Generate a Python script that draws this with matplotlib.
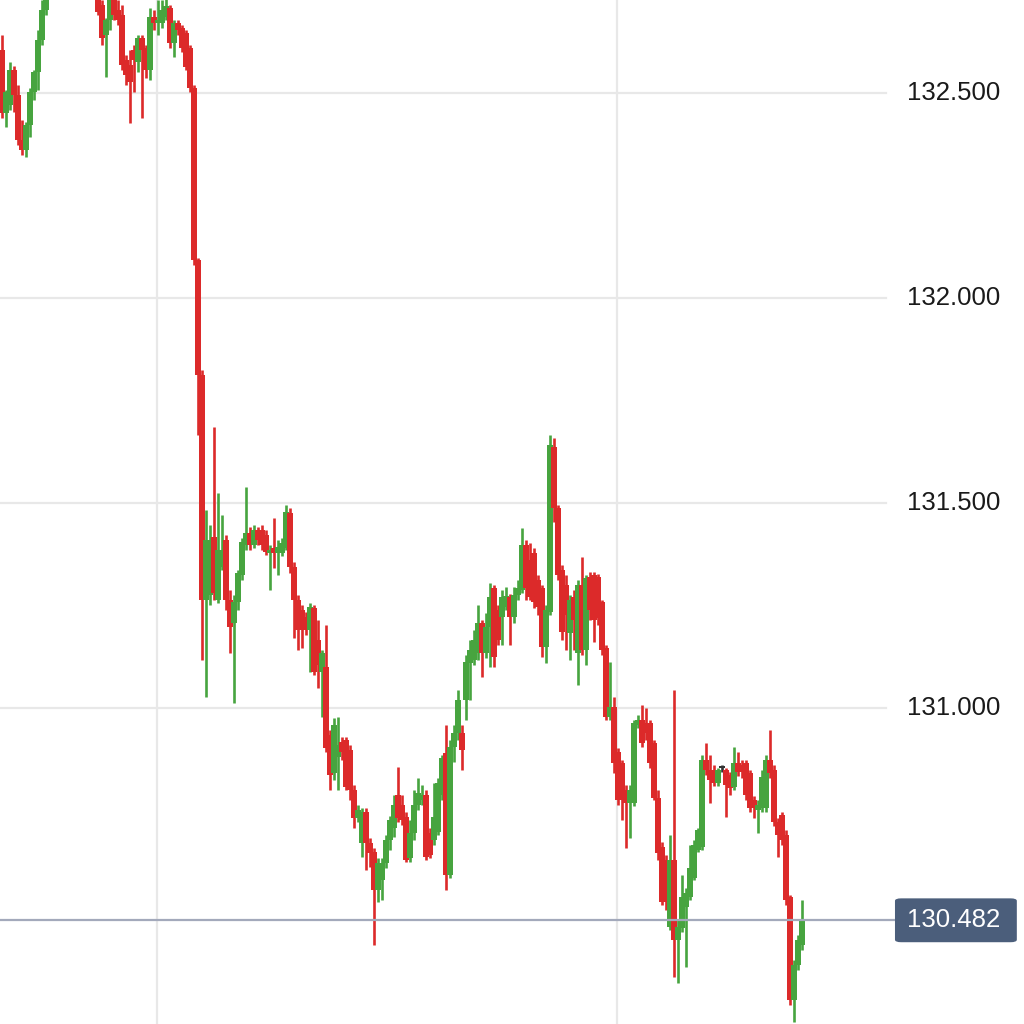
import matplotlib
matplotlib.use("Agg")
import matplotlib.pyplot as plt
import matplotlib.transforms as mtransforms
from matplotlib.patches import FancyBboxPatch
import numpy as np

# candle data (USD/JPY style quotes), oldest first
opens = [
    132.605, 132.451, 132.471, 132.556, 132.495, 132.386, 132.361, 132.422, 132.503, 132.551,
    132.629, 132.703, 132.776, 132.825, 132.861, 132.837, 132.886, 132.873, 132.910, 132.849,
    132.873, 132.825, 132.800, 132.764, 132.751, 132.715, 132.642, 132.678, 132.739, 132.703,
    132.690, 132.581, 132.568, 132.605, 132.576, 132.634, 132.610, 132.556, 132.686, 132.671,
    132.671, 132.686, 132.707, 132.622, 132.671, 132.659, 132.647, 132.610, 132.512, 132.093,
    131.812, 131.264, 131.276, 131.417, 131.264, 131.344, 131.410, 131.264, 131.207, 131.259,
    131.325, 131.398, 131.427, 131.398, 131.434, 131.434, 131.422, 131.378, 131.390, 131.378,
    131.378, 131.390, 131.476, 131.344, 131.264, 131.239, 131.222, 131.190, 131.244, 131.166,
    131.088, 131.100, 130.934, 130.842, 130.881, 130.917, 130.922, 130.898, 130.800, 130.732,
    130.671, 130.746, 130.671, 130.649, 130.556, 130.581, 130.622, 130.678, 130.707, 130.788,
    130.764, 130.734, 130.634, 130.695, 130.764, 130.776, 130.788, 130.695, 130.678, 130.698,
    130.788, 130.890, 130.593, 130.905, 130.939, 130.939, 131.020, 131.110, 131.117, 131.134,
    131.207, 131.134, 131.198, 131.293, 131.239, 131.222, 131.247, 131.271, 131.222, 131.276,
    131.288, 131.398, 131.361, 131.378, 131.312, 131.293, 131.149, 131.234, 131.637, 131.488,
    131.337, 131.300, 131.183, 131.271, 131.134, 131.300, 131.142, 131.320, 131.325, 131.320,
    131.259, 131.146, 130.978, 131.003, 130.893, 130.866, 130.800, 130.768, 130.768, 130.959,
    130.971, 130.964, 130.964, 130.915, 130.781, 130.661, 130.629, 130.466, 130.629, 130.434,
    130.464, 130.515, 130.539, 130.586, 130.654, 130.661, 130.873, 130.849, 130.849, 130.817,
    130.853, 130.849, 130.837, 130.807, 130.866, 130.861, 130.866, 130.842, 130.776, 130.751,
    130.756, 130.756, 130.873, 130.849, 130.722, 130.739, 130.690, 130.539, 130.288, 130.373,
    130.422,
]
highs = [
    132.642, 132.507, 132.576, 132.566, 132.520, 132.434, 132.429, 132.512, 132.556, 132.654,
    132.727, 132.800, 132.849, 132.898, 132.898, 132.922, 132.934, 132.947, 132.934, 132.898,
    132.898, 132.861, 132.837, 132.800, 132.776, 132.727, 132.683, 132.764, 132.764, 132.727,
    132.715, 132.593, 132.605, 132.617, 132.642, 132.642, 132.617, 132.707, 132.703, 132.727,
    132.727, 132.734, 132.715, 132.678, 132.678, 132.666, 132.654, 132.617, 132.520, 132.098,
    131.825, 131.483, 131.447, 131.686, 131.525, 131.471, 131.422, 131.288, 131.276, 131.337,
    131.415, 131.539, 131.442, 131.447, 131.442, 131.447, 131.434, 131.398, 131.464, 131.410,
    131.415, 131.495, 131.488, 131.356, 131.276, 131.251, 131.234, 131.256, 131.251, 131.215,
    131.142, 131.203, 130.947, 130.976, 130.978, 130.929, 130.929, 130.910, 130.812, 130.764,
    130.756, 130.756, 130.683, 130.659, 130.634, 130.634, 130.690, 130.737, 130.788, 130.856,
    130.788, 130.746, 130.727, 130.800, 130.829, 130.812, 130.800, 130.707, 130.817, 130.829,
    130.886, 130.959, 130.922, 130.959, 131.044, 130.959, 131.129, 131.166, 131.190, 131.251,
    131.215, 131.232, 131.305, 131.300, 131.251, 131.288, 131.295, 131.278, 131.295, 131.312,
    131.439, 131.410, 131.403, 131.390, 131.325, 131.300, 131.251, 131.666, 131.659, 131.495,
    131.349, 131.325, 131.276, 131.288, 131.312, 131.368, 131.325, 131.332, 131.332, 131.327,
    131.264, 131.154, 131.112, 131.027, 130.903, 130.873, 130.812, 130.812, 130.971, 130.983,
    131.008, 131.000, 130.971, 130.922, 130.800, 130.673, 130.642, 130.690, 131.044, 130.483,
    130.593, 130.561, 130.666, 130.678, 130.707, 130.886, 130.915, 130.886, 130.861, 130.854,
    130.861, 130.854, 130.844, 130.905, 130.893, 130.873, 130.873, 130.849, 130.786, 130.776,
    130.849, 130.886, 130.947, 130.861, 130.732, 130.746, 130.703, 130.544, 130.386, 130.447,
    130.532,
]
lows = [
    132.439, 132.417, 132.459, 132.454, 132.373, 132.349, 132.344, 132.393, 132.483, 132.507,
    132.617, 132.690, 132.764, 132.812, 132.825, 132.825, 132.849, 132.861, 132.837, 132.825,
    132.800, 132.776, 132.751, 132.732, 132.690, 132.617, 132.539, 132.654, 132.678, 132.666,
    132.556, 132.520, 132.427, 132.503, 132.551, 132.439, 132.537, 132.532, 132.654, 132.642,
    132.659, 132.678, 132.610, 132.588, 132.642, 132.600, 132.556, 132.503, 132.081, 131.666,
    131.117, 131.027, 131.251, 131.264, 131.256, 131.337, 131.239, 131.134, 131.012, 131.239,
    131.312, 131.386, 131.386, 131.390, 131.398, 131.386, 131.373, 131.288, 131.342, 131.325,
    131.371, 131.386, 131.329, 131.171, 131.142, 131.146, 131.178, 131.088, 131.081, 131.049,
    130.978, 130.893, 130.800, 130.824, 130.800, 130.873, 130.800, 130.776, 130.707, 130.722,
    130.637, 130.605, 130.612, 130.422, 130.527, 130.532, 130.610, 130.654, 130.686, 130.722,
    130.715, 130.625, 130.625, 130.678, 130.751, 130.764, 130.629, 130.634, 130.666, 130.690,
    130.776, 130.556, 130.586, 130.869, 130.922, 130.849, 130.971, 131.020, 131.105, 131.117,
    131.076, 131.122, 131.100, 131.100, 131.154, 131.154, 131.239, 131.154, 131.207, 131.264,
    131.281, 131.264, 131.264, 131.244, 131.227, 131.124, 131.110, 131.227, 131.454, 131.312,
    131.166, 131.142, 131.117, 131.142, 131.056, 131.129, 131.105, 131.215, 131.161, 131.203,
    131.129, 130.971, 130.971, 130.842, 130.764, 130.727, 130.659, 130.683, 130.761, 130.951,
    130.905, 130.922, 130.854, 130.776, 130.629, 130.520, 130.508, 130.459, 130.344, 130.329,
    130.454, 130.369, 130.532, 130.581, 130.649, 130.654, 130.837, 130.768, 130.810, 130.810,
    130.844, 130.734, 130.788, 130.800, 130.834, 130.829, 130.776, 130.746, 130.732, 130.695,
    130.746, 130.746, 130.829, 130.712, 130.637, 130.666, 130.520, 130.276, 130.234, 130.361,
    130.410,
]
closes = [
    132.451, 132.503, 132.556, 132.495, 132.386, 132.361, 132.422, 132.503, 132.551, 132.629,
    132.703, 132.776, 132.825, 132.861, 132.837, 132.886, 132.873, 132.910, 132.849, 132.873,
    132.825, 132.800, 132.764, 132.739, 132.698, 132.634, 132.678, 132.739, 132.690, 132.678,
    132.568, 132.544, 132.527, 132.581, 132.634, 132.605, 132.556, 132.686, 132.671, 132.678,
    132.703, 132.712, 132.622, 132.671, 132.654, 132.610, 132.564, 132.512, 132.093, 131.812,
    131.264, 131.410, 131.410, 131.281, 131.386, 131.386, 131.264, 131.198, 131.259, 131.329,
    131.405, 131.427, 131.398, 131.434, 131.410, 131.398, 131.381, 131.386, 131.378, 131.393,
    131.403, 131.478, 131.344, 131.264, 131.190, 131.190, 131.190, 131.247, 131.088, 131.105,
    131.134, 130.903, 130.837, 130.959, 130.910, 130.893, 130.807, 130.800, 130.732, 130.751,
    130.746, 130.671, 130.646, 130.556, 130.622, 130.622, 130.678, 130.727, 130.764, 130.732,
    130.727, 130.629, 130.695, 130.764, 130.793, 130.788, 130.637, 130.642, 130.734, 130.817,
    130.878, 130.593, 130.905, 130.939, 131.020, 130.898, 131.112, 131.142, 131.166, 131.207,
    131.134, 131.198, 131.271, 131.124, 131.166, 131.271, 131.273, 131.222, 131.276, 131.293,
    131.398, 131.293, 131.271, 131.259, 131.247, 131.149, 131.239, 131.642, 131.488, 131.325,
    131.186, 131.227, 131.264, 131.215, 131.300, 131.142, 131.317, 131.239, 131.215, 131.220,
    131.142, 130.978, 131.003, 130.866, 130.776, 130.776, 130.768, 130.800, 130.964, 130.971,
    130.915, 130.939, 130.866, 130.781, 130.646, 130.527, 130.527, 130.629, 130.434, 130.466,
    130.539, 130.549, 130.610, 130.666, 130.703, 130.873, 130.849, 130.824, 130.817, 130.849,
    130.853, 130.812, 130.805, 130.866, 130.844, 130.844, 130.788, 130.756, 130.756, 130.764,
    130.832, 130.873, 130.842, 130.722, 130.690, 130.678, 130.532, 130.288, 130.373, 130.434,
    130.482,
]

price_ticks = [131.0, 131.5, 132.0, 132.5]
tick_labels = ["131.000", "131.500", "132.000", "132.500"]
last_price = 130.482
last_label = "130.482"

green = "#47a43f"
red = "#dc2a2a"
doji = "#333333"
grid_c = "#e8e8e8"

o = np.array(opens)
h = np.array(highs)
l = np.array(lows)
c = np.array(closes)
x = np.arange(len(o))

fig = plt.figure(figsize=(10.24, 10.24), dpi=100)
ax = fig.add_axes([0, 0, 1, 1])
ax.set_xlim(-0.5, 255.5)
ax.set_ylim(130.229, 132.727)
ax.axis("off")

# grid
for t in price_ticks:
    ax.plot([-0.5, 221], [t, t], color=grid_c, lw=1.6, zorder=0)
for gx in [38.75, 153.75]:
    ax.axvline(gx, color=grid_c, lw=1.6, zorder=0)

cols = np.where(c > o, green, np.where(c < o, red, doji))

ax.vlines(x, l, h, colors=cols, lw=1.9, zorder=2)
bottom = np.minimum(o, c)
height = np.maximum(np.abs(c - o), 0.005)
ax.bar(x, height, bottom=bottom, width=1.4, color=cols, lw=0, zorder=3)

# right price labels
tr = mtransforms.blended_transform_factory(ax.transAxes, ax.transData)
for t, s in zip(price_ticks, tick_labels):
    ax.text(0.977, t, s, transform=tr, ha="right", va="center",
            fontsize=18.5, family="Liberation Sans", color="#1a1a1a")

# current price line + badge
ax.plot([-0.5, 223], [last_price, last_price], color="#a3a9bb", lw=1.6, zorder=4)
badge = FancyBboxPatch((0.874, last_price - 0.0535), 0.119, 0.107,
                       boxstyle="round,pad=0,rounding_size=0.006",
                       transform=tr, facecolor="#4b5e7b", edgecolor="none",
                       zorder=5)
ax.add_patch(badge)
ax.text(0.977, last_price, last_label, transform=tr, ha="right", va="center",
        fontsize=18.5, family="Liberation Sans", color="white", zorder=6)

fig.savefig("out.png", dpi=100, facecolor="white")
